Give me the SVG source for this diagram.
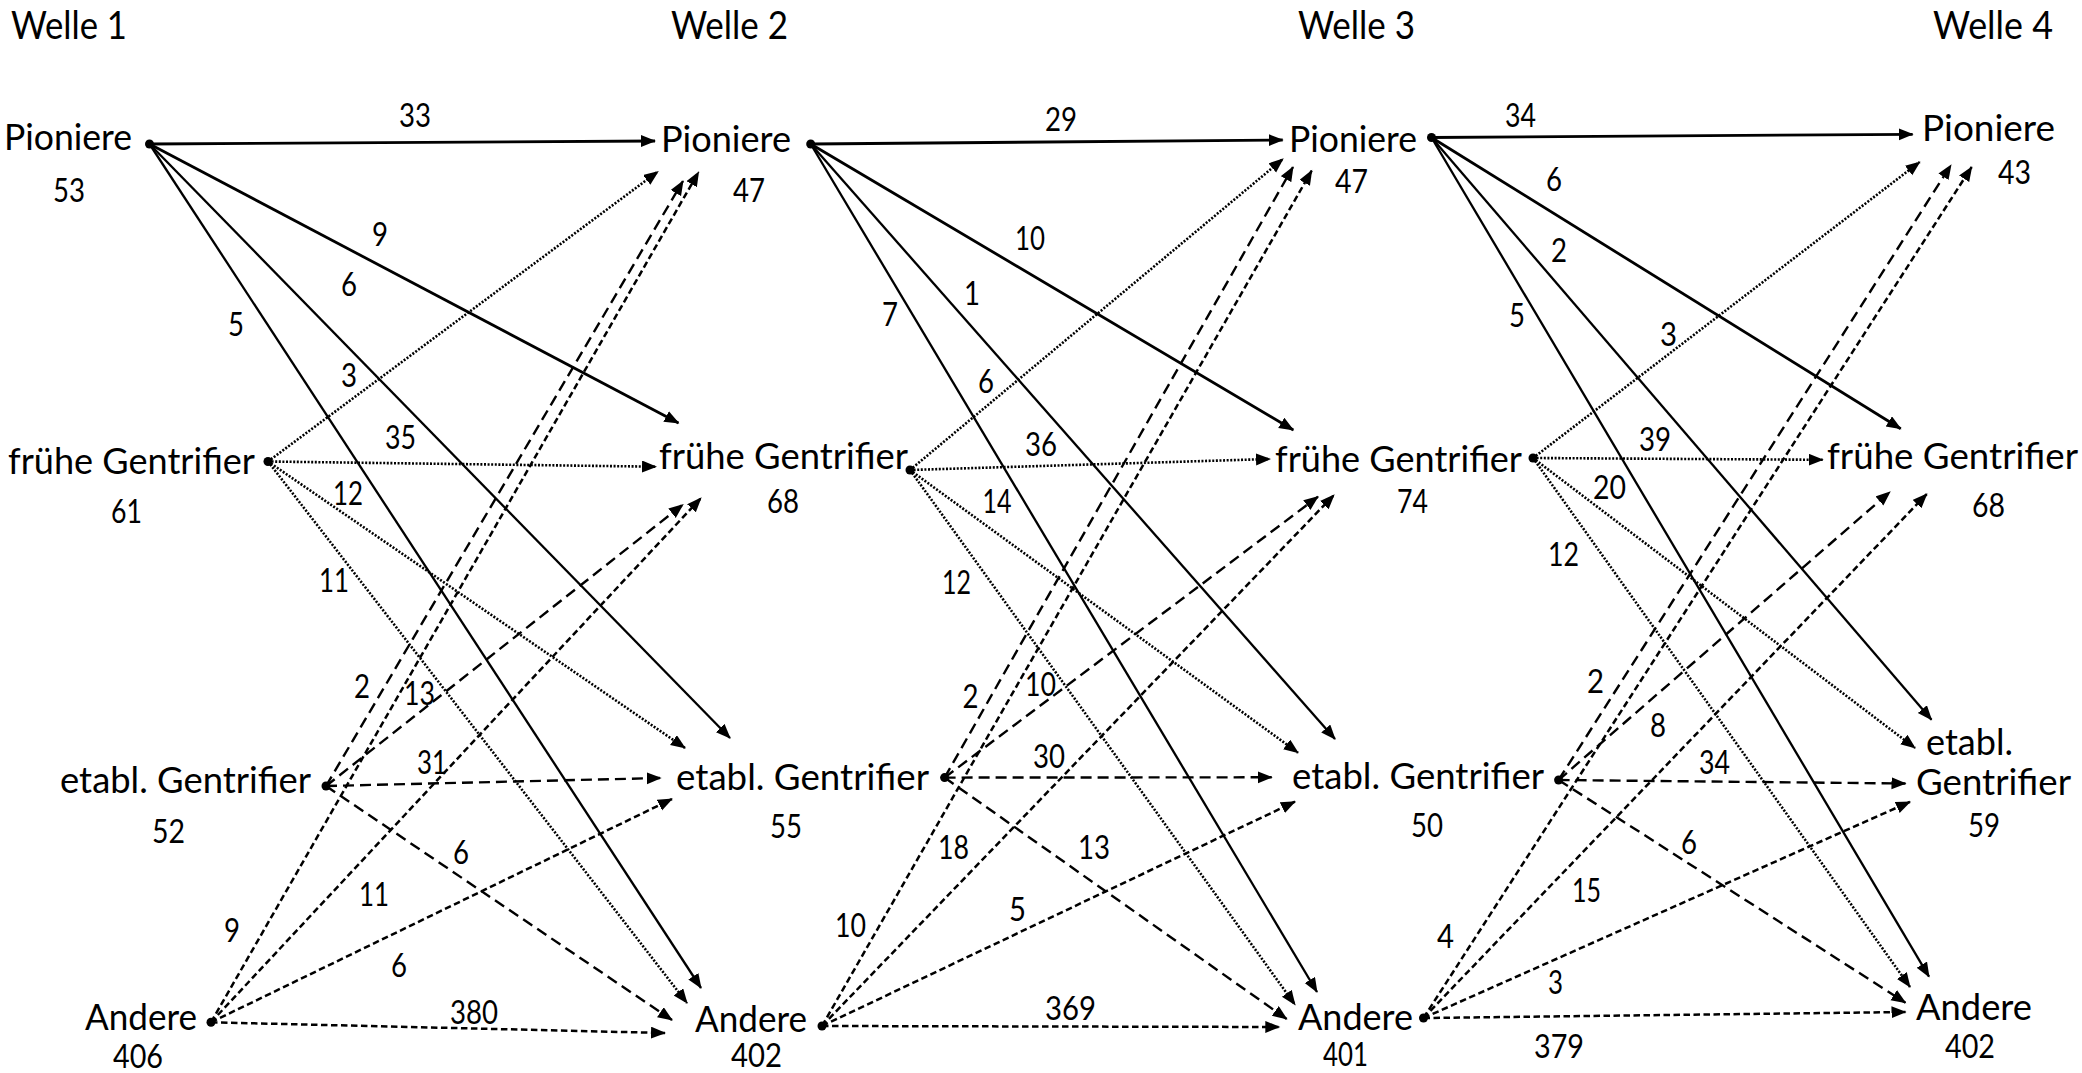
<svg xmlns="http://www.w3.org/2000/svg" width="2082" height="1073" viewBox="0 0 2082 1073">
  <style>
    text { font-family: Lato, "Liberation Sans", sans-serif; fill: #000; }
    .wave { font-size: 39px; }
    .lbl { font-size: 36px; }
    .cnt { font-size: 33px; }
    .num { font-size: 33px; }
    .dot { fill: #000; }
    line { fill: none; stroke: #000; marker-end: url(#ah); }
    .pio { stroke-width: 2.3; }
    .pio-main { stroke-width: 2.8; }
    .fru { stroke-width: 2.6; stroke-dasharray: 2 1.6; }
    .eta { stroke-width: 2.4; stroke-dasharray: 11 6; }
    .and { stroke-width: 2.5; stroke-dasharray: 6.5 3.5; }
  </style>
  <defs>
    <marker id="ah" markerUnits="userSpaceOnUse" markerWidth="16" markerHeight="13" refX="14" refY="6" orient="auto">
      <path d="M0,0 L15,6 L0,12 Z" fill="#000"/>
    </marker>
  </defs>
  <rect width="2082" height="1073" fill="#fff"/>

  <!-- wave headings -->
  <g id="headings">
    <text class="wave" x="11" y="39" textLength="116" lengthAdjust="spacingAndGlyphs">Welle 1</text>
    <text class="wave" x="671" y="39" textLength="117" lengthAdjust="spacingAndGlyphs">Welle 2</text>
    <text class="wave" x="1298" y="39" textLength="117" lengthAdjust="spacingAndGlyphs">Welle 3</text>
    <text class="wave" x="1933" y="39" textLength="120" lengthAdjust="spacingAndGlyphs">Welle 4</text>
  </g>

  <!-- transitions between waves -->
  <g id="connectors">
    <!-- Welle 1 -> Welle 2 -->
    <line class="pio-main" x1="149.5" y1="144" x2="655" y2="141"/>
    <line class="pio-main" x1="149.5" y1="144" x2="678.5" y2="423"/>
    <line class="pio" x1="149.5" y1="144" x2="730" y2="738"/>
    <line class="pio" x1="149.5" y1="144" x2="701" y2="988"/>
    <line class="fru" x1="268" y1="461.5" x2="658" y2="171.5"/>
    <line class="fru" x1="268" y1="461.5" x2="656" y2="466.7"/>
    <line class="fru" x1="268" y1="461.5" x2="685" y2="748"/>
    <line class="fru" x1="268" y1="461.5" x2="687" y2="1003"/>
    <line class="eta" x1="326" y1="786" x2="683" y2="181"/>
    <line class="eta" x1="326" y1="786" x2="683" y2="504.5"/>
    <line class="eta" x1="326" y1="786" x2="660.7" y2="778"/>
    <line class="eta" x1="326" y1="786" x2="672" y2="1020"/>
    <line class="and" x1="211" y1="1022.3" x2="698.6" y2="172"/>
    <line class="and" x1="211" y1="1022.3" x2="701" y2="498"/>
    <line class="and" x1="211" y1="1022.3" x2="672" y2="799"/>
    <line class="and" x1="211" y1="1022.3" x2="665" y2="1033"/>
    <!-- Welle 2 -> Welle 3 -->
    <line class="pio-main" x1="810.7" y1="144" x2="1282.7" y2="140"/>
    <line class="pio-main" x1="810.7" y1="144" x2="1293.3" y2="430"/>
    <line class="pio" x1="810.7" y1="144" x2="1335" y2="739"/>
    <line class="pio" x1="810.7" y1="144" x2="1317" y2="992"/>
    <line class="fru" x1="910" y1="470" x2="1283" y2="159"/>
    <line class="fru" x1="910" y1="470" x2="1270" y2="459"/>
    <line class="fru" x1="910" y1="470" x2="1298" y2="752.7"/>
    <line class="fru" x1="910" y1="470" x2="1295" y2="1004.7"/>
    <line class="eta" x1="944.6" y1="777.6" x2="1293" y2="167"/>
    <line class="eta" x1="944.6" y1="777.6" x2="1318" y2="496.7"/>
    <line class="eta" x1="944.6" y1="777.6" x2="1271.7" y2="777.3"/>
    <line class="eta" x1="944.6" y1="777.6" x2="1286.7" y2="1019"/>
    <line class="and" x1="822" y1="1026" x2="1311.7" y2="170.7"/>
    <line class="and" x1="822" y1="1026" x2="1334" y2="495"/>
    <line class="and" x1="822" y1="1026" x2="1295" y2="801.7"/>
    <line class="and" x1="822" y1="1026" x2="1279.3" y2="1027"/>
    <!-- Welle 3 -> Welle 4 -->
    <line class="pio-main" x1="1431.5" y1="137.5" x2="1912.6" y2="134.3"/>
    <line class="pio-main" x1="1431.5" y1="137.5" x2="1900.7" y2="428.8"/>
    <line class="pio" x1="1431.5" y1="137.5" x2="1931.5" y2="719.8"/>
    <line class="pio" x1="1431.5" y1="137.5" x2="1929" y2="976.7"/>
    <line class="fru" x1="1533" y1="458" x2="1919.7" y2="162"/>
    <line class="fru" x1="1533" y1="458" x2="1822.7" y2="459.8"/>
    <line class="fru" x1="1533" y1="458" x2="1915" y2="748"/>
    <line class="fru" x1="1533" y1="458" x2="1910" y2="987"/>
    <line class="eta" x1="1558.6" y1="780" x2="1951" y2="165"/>
    <line class="eta" x1="1558.6" y1="780" x2="1890" y2="491.8"/>
    <line class="eta" x1="1558.6" y1="780" x2="1905.5" y2="783.5"/>
    <line class="eta" x1="1558.6" y1="780" x2="1905.5" y2="1002.7"/>
    <line class="and" x1="1423.5" y1="1018" x2="1971.7" y2="167"/>
    <line class="and" x1="1423.5" y1="1018" x2="1926.8" y2="494"/>
    <line class="and" x1="1423.5" y1="1018" x2="1910" y2="801.8"/>
    <line class="and" x1="1423.5" y1="1018" x2="1905.5" y2="1012"/>
  </g>

  <!-- flow counts on the transitions -->
  <g id="flow-labels" class="num">
    <text x="399" y="127" textLength="32" lengthAdjust="spacingAndGlyphs">33</text>
    <text x="372" y="246" textLength="16" lengthAdjust="spacingAndGlyphs">9</text>
    <text x="341" y="296" textLength="16" lengthAdjust="spacingAndGlyphs">6</text>
    <text x="228" y="336" textLength="16" lengthAdjust="spacingAndGlyphs">5</text>
    <text x="341" y="387" textLength="16" lengthAdjust="spacingAndGlyphs">3</text>
    <text x="385" y="449" textLength="31" lengthAdjust="spacingAndGlyphs">35</text>
    <text x="333" y="504.5" textLength="30" lengthAdjust="spacingAndGlyphs">12</text>
    <text x="319" y="592" textLength="30" lengthAdjust="spacingAndGlyphs">11</text>
    <text x="354" y="698" textLength="16" lengthAdjust="spacingAndGlyphs">2</text>
    <text x="404" y="705" textLength="31" lengthAdjust="spacingAndGlyphs">13</text>
    <text x="417" y="774" textLength="30" lengthAdjust="spacingAndGlyphs">31</text>
    <text x="453" y="864" textLength="16" lengthAdjust="spacingAndGlyphs">6</text>
    <text x="359" y="906" textLength="30" lengthAdjust="spacingAndGlyphs">11</text>
    <text x="224" y="942" textLength="16" lengthAdjust="spacingAndGlyphs">9</text>
    <text x="391" y="977" textLength="16" lengthAdjust="spacingAndGlyphs">6</text>
    <text x="450" y="1023.5" textLength="48" lengthAdjust="spacingAndGlyphs">380</text>

    <text x="1045" y="131" textLength="32" lengthAdjust="spacingAndGlyphs">29</text>
    <text x="1015" y="250" textLength="30" lengthAdjust="spacingAndGlyphs">10</text>
    <text x="964" y="305" textLength="16" lengthAdjust="spacingAndGlyphs">1</text>
    <text x="882" y="325.5" textLength="16" lengthAdjust="spacingAndGlyphs">7</text>
    <text x="978" y="392.6" textLength="16" lengthAdjust="spacingAndGlyphs">6</text>
    <text x="1025" y="456" textLength="32" lengthAdjust="spacingAndGlyphs">36</text>
    <text x="982.6" y="513" textLength="29" lengthAdjust="spacingAndGlyphs">14</text>
    <text x="942" y="594" textLength="29" lengthAdjust="spacingAndGlyphs">12</text>
    <text x="962.5" y="708" textLength="16" lengthAdjust="spacingAndGlyphs">2</text>
    <text x="1025" y="695.5" textLength="31" lengthAdjust="spacingAndGlyphs">10</text>
    <text x="1033" y="768" textLength="32" lengthAdjust="spacingAndGlyphs">30</text>
    <text x="938" y="859" textLength="31" lengthAdjust="spacingAndGlyphs">18</text>
    <text x="1078" y="859" textLength="32" lengthAdjust="spacingAndGlyphs">13</text>
    <text x="835" y="937" textLength="31" lengthAdjust="spacingAndGlyphs">10</text>
    <text x="1009" y="921" textLength="17" lengthAdjust="spacingAndGlyphs">5</text>
    <text x="1045" y="1020" textLength="51" lengthAdjust="spacingAndGlyphs">369</text>

    <text x="1505" y="127.4" textLength="31" lengthAdjust="spacingAndGlyphs">34</text>
    <text x="1546" y="191" textLength="16" lengthAdjust="spacingAndGlyphs">6</text>
    <text x="1551" y="261.7" textLength="16" lengthAdjust="spacingAndGlyphs">2</text>
    <text x="1509" y="326.5" textLength="16" lengthAdjust="spacingAndGlyphs">5</text>
    <text x="1660" y="346" textLength="17" lengthAdjust="spacingAndGlyphs">3</text>
    <text x="1639" y="451" textLength="32" lengthAdjust="spacingAndGlyphs">39</text>
    <text x="1593" y="499" textLength="33" lengthAdjust="spacingAndGlyphs">20</text>
    <text x="1548" y="566" textLength="31" lengthAdjust="spacingAndGlyphs">12</text>
    <text x="1587" y="692.8" textLength="17" lengthAdjust="spacingAndGlyphs">2</text>
    <text x="1650" y="737" textLength="16" lengthAdjust="spacingAndGlyphs">8</text>
    <text x="1699" y="774" textLength="31" lengthAdjust="spacingAndGlyphs">34</text>
    <text x="1681" y="853.8" textLength="16" lengthAdjust="spacingAndGlyphs">6</text>
    <text x="1572" y="902" textLength="29" lengthAdjust="spacingAndGlyphs">15</text>
    <text x="1437" y="947.5" textLength="17" lengthAdjust="spacingAndGlyphs">4</text>
    <text x="1548" y="994" textLength="15" lengthAdjust="spacingAndGlyphs">3</text>
    <text x="1534" y="1058" textLength="50" lengthAdjust="spacingAndGlyphs">379</text>
  </g>

  <!-- Welle 1 -->
  <g id="w1-pioniere">
    <text class="lbl" x="4" y="150" textLength="128" lengthAdjust="spacingAndGlyphs">Pioniere</text>
    <text class="cnt" x="53" y="201.5" textLength="32" lengthAdjust="spacingAndGlyphs">53</text>
    <circle class="dot" cx="149.5" cy="144" r="4.5"/>
  </g>
  <g id="w1-fruehe-gentrifier">
    <text class="lbl" x="8" y="473.5" textLength="247" lengthAdjust="spacingAndGlyphs">frühe Gentrifier</text>
    <text class="cnt" x="111" y="523" textLength="31" lengthAdjust="spacingAndGlyphs">61</text>
    <circle class="dot" cx="268" cy="461.5" r="4.5"/>
  </g>
  <g id="w1-etabl-gentrifier">
    <text class="lbl" x="60" y="793" textLength="251" lengthAdjust="spacingAndGlyphs">etabl. Gentrifier</text>
    <text class="cnt" x="152" y="843" textLength="33" lengthAdjust="spacingAndGlyphs">52</text>
    <circle class="dot" cx="326" cy="786" r="4.5"/>
  </g>
  <g id="w1-andere">
    <text class="lbl" x="85" y="1030" textLength="112" lengthAdjust="spacingAndGlyphs">Andere</text>
    <text class="cnt" x="113" y="1068" textLength="50" lengthAdjust="spacingAndGlyphs">406</text>
    <circle class="dot" cx="211" cy="1022.3" r="4.5"/>
  </g>

  <!-- Welle 2 -->
  <g id="w2-pioniere">
    <text class="lbl" x="661" y="151.5" textLength="130" lengthAdjust="spacingAndGlyphs">Pioniere</text>
    <text class="cnt" x="733" y="201.5" textLength="32" lengthAdjust="spacingAndGlyphs">47</text>
    <circle class="dot" cx="810.7" cy="144" r="4.5"/>
  </g>
  <g id="w2-fruehe-gentrifier">
    <text class="lbl" x="659" y="469" textLength="249" lengthAdjust="spacingAndGlyphs">frühe Gentrifier</text>
    <text class="cnt" x="767" y="513" textLength="32" lengthAdjust="spacingAndGlyphs">68</text>
    <circle class="dot" cx="910" cy="470" r="4.5"/>
  </g>
  <g id="w2-etabl-gentrifier">
    <text class="lbl" x="676" y="790" textLength="253" lengthAdjust="spacingAndGlyphs">etabl. Gentrifier</text>
    <text class="cnt" x="770" y="838" textLength="32" lengthAdjust="spacingAndGlyphs">55</text>
    <circle class="dot" cx="944.6" cy="777.6" r="4.5"/>
  </g>
  <g id="w2-andere">
    <text class="lbl" x="695" y="1032" textLength="112" lengthAdjust="spacingAndGlyphs">Andere</text>
    <text class="cnt" x="731" y="1067" textLength="51" lengthAdjust="spacingAndGlyphs">402</text>
    <circle class="dot" cx="822" cy="1026" r="4.5"/>
  </g>

  <!-- Welle 3 -->
  <g id="w3-pioniere">
    <text class="lbl" x="1289" y="151.5" textLength="128" lengthAdjust="spacingAndGlyphs">Pioniere</text>
    <text class="cnt" x="1335" y="192.7" textLength="33" lengthAdjust="spacingAndGlyphs">47</text>
    <circle class="dot" cx="1431.5" cy="137.5" r="4.5"/>
  </g>
  <g id="w3-fruehe-gentrifier">
    <text class="lbl" x="1275" y="471.5" textLength="247" lengthAdjust="spacingAndGlyphs">frühe Gentrifier</text>
    <text class="cnt" x="1397" y="513" textLength="31" lengthAdjust="spacingAndGlyphs">74</text>
    <circle class="dot" cx="1533" cy="458" r="4.5"/>
  </g>
  <g id="w3-etabl-gentrifier">
    <text class="lbl" x="1292" y="789" textLength="252" lengthAdjust="spacingAndGlyphs">etabl. Gentrifier</text>
    <text class="cnt" x="1411" y="836.7" textLength="32" lengthAdjust="spacingAndGlyphs">50</text>
    <circle class="dot" cx="1558.6" cy="780" r="4.5"/>
  </g>
  <g id="w3-andere">
    <text class="lbl" x="1298" y="1030" textLength="115" lengthAdjust="spacingAndGlyphs">Andere</text>
    <text class="cnt" x="1323" y="1066" textLength="45" lengthAdjust="spacingAndGlyphs">401</text>
    <circle class="dot" cx="1423.5" cy="1018" r="4.5"/>
  </g>

  <!-- Welle 4 -->
  <g id="w4-pioniere">
    <text class="lbl" x="1922" y="141" textLength="133" lengthAdjust="spacingAndGlyphs">Pioniere</text>
    <text class="cnt" x="1998" y="184" textLength="33" lengthAdjust="spacingAndGlyphs">43</text>
  </g>
  <g id="w4-fruehe-gentrifier">
    <text class="lbl" x="1827" y="468.5" textLength="251" lengthAdjust="spacingAndGlyphs">frühe Gentrifier</text>
    <text class="cnt" x="1972" y="516.6" textLength="33" lengthAdjust="spacingAndGlyphs">68</text>
  </g>
  <g id="w4-etabl-gentrifier">
    <text class="lbl" x="1926" y="755" textLength="87" lengthAdjust="spacingAndGlyphs">etabl.</text>
    <text class="lbl" x="1916" y="795" textLength="155" lengthAdjust="spacingAndGlyphs">Gentrifier</text>
    <text class="cnt" x="1968" y="836.5" textLength="32" lengthAdjust="spacingAndGlyphs">59</text>
  </g>
  <g id="w4-andere">
    <text class="lbl" x="1916" y="1020" textLength="116" lengthAdjust="spacingAndGlyphs">Andere</text>
    <text class="cnt" x="1945" y="1058" textLength="50" lengthAdjust="spacingAndGlyphs">402</text>
  </g>
</svg>
